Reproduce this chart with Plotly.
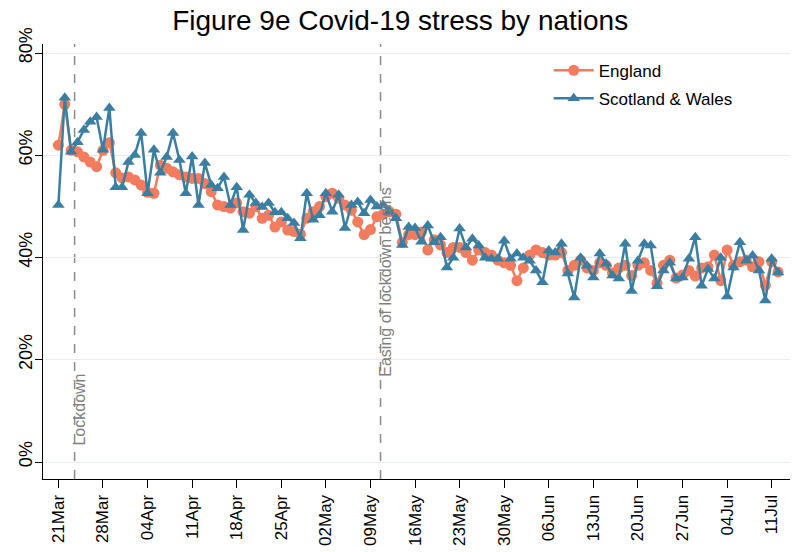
import pandas as pd
import plotly.graph_objects as go

# daily series, 21 Mar 2020 onwards (percent stressed)
start_date = "2020-03-21"
england = [
    62, 70, 61, 60.7, 59.7, 58.7, 57.8, 61, 62.5, 56.6,
    55.6, 55.8, 55.2, 54.2, 52.8, 52.6, 58.1, 57.5, 56.8, 56.2,
    55.8, 55.5, 55.5, 54.5, 52.9, 50.3, 50, 49.7, 50.7, 49,
    48.7, 50, 47.7, 48.3, 46, 47, 45.4, 45.1, 44.6, 47.7,
    49, 50, 51.9, 52.6, 51.6, 50.3, 49.3, 47, 44.5, 45.5,
    48, 48.5, 49, 48.5, 43, 44.5, 44.5, 45, 41.5, 43.5,
    42.5, 41, 42, 42, 41, 39.5, 41.5, 41, 40.5, 39.5,
    39, 38.5, 35.5, 38, 40.5, 41.5, 41, 40.5, 40.5, 41,
    37.5, 38.5, 39.5, 38, 37.5, 39, 38.5, 37, 38, 38.5,
    36.5, 38.5, 39, 37.5, 35, 38.5, 39.5, 36, 36.6, 37.5,
    36.4, 38, 38.2, 40.5, 35.5, 41.5, 38.5, 39.2, 39.5, 38.2,
    39.2, 34.6, 39.2, 37.2,
]
scotland_wales = [
    50.3, 71.3, 60.7, 62.6, 65, 66.6, 67.5, 61.1, 69.3, 53.8,
    53.8, 58.7, 60.1, 64.4, 52.6, 61.1, 56.6, 59.7, 64.4, 59.1,
    52.6, 59.8, 50.3, 58.5, 54.2, 53.6, 55.8, 50.3, 53.8, 45.4,
    52.3, 50.7, 49.9, 50.7, 48.9, 48.9, 47.7, 46.8, 43.8, 52.6,
    47.4, 48.3, 52.6, 49, 52.3, 45.8, 50.3, 50.9, 48.7, 51.3,
    50, 50.3, 49, 47.7, 42.5, 46, 45.8, 43.1, 46.3, 43,
    44, 38.1, 40, 45.7, 42, 43.7, 42.4, 40, 39.8, 39.8,
    43.3, 39.8, 40.8, 40, 39.4, 37.5, 35.2, 41.4, 41, 42.7,
    36.9, 32.2, 40, 38.4, 36.1, 40.8, 38.8, 36.5, 35.9, 42.7,
    33.5, 39.4, 42.7, 42.4, 34.4, 37.5, 39, 35.9, 36.1, 39.8,
    44, 34.5, 37.8, 35.9, 40, 32.4, 38.1, 43, 39.4, 40.4,
    37.5, 31.6, 39.8, 37.1,
]
y_ticks = [0, 20, 40, 60, 80]
y_tick_text = ["0%", "20%", "40%", "60%", "80%"]
events = ["2020-03-23 13:00", "2020-05-10 14:00"]
event_labels = ["Lockdown", "Easing of lockdown begins"]
event_label_y = [10.2, 35.2]

dates = pd.date_range(start_date, periods=len(england), freq="D")
tick_dates = pd.date_range(start_date, "2020-07-11", freq="7D")

ORANGE = "#F47C5E"
BLUE = "#3A7EA1"
GREY = "#808080"

fig = go.Figure()
fig.add_scatter(
    x=dates, y=england, name="England", mode="lines+markers",
    legendgroup="eng",
    line=dict(color=ORANGE, width=2.5),
    marker=dict(symbol="circle", size=11, color=ORANGE),
)
fig.add_scatter(
    x=dates, y=scotland_wales, name="Scotland & Wales", mode="lines+markers",
    legendgroup="sw",
    line=dict(color=BLUE, width=2.5),
    marker=dict(symbol="triangle-up", size=11, color=BLUE),
)

for when, label, ly in zip(events, event_labels, event_label_y):
    fig.add_shape(
        type="line", xref="x", yref="paper", x0=when, x1=when, y0=0, y1=1,
        line=dict(color="#8a8a8a", width=1.5, dash="dash"), layer="below",
    )
    fig.add_annotation(
        x=when, y=ly, xref="x", yref="y", text=label, showarrow=False,
        textangle=-90, xshift=5, font=dict(color=GREY, size=16),
    )

# vertical y tick labels
for v, txt in zip(y_ticks, y_tick_text):
    fig.add_annotation(
        x=0, y=v, xref="paper", yref="y", text=txt, showarrow=False,
        textangle=-90, xshift=-29, yshift=8, font=dict(size=18, color="black"),
    )

fig.update_layout(
    template="none",
    width=794, height=552,
    margin=dict(l=43, r=4, t=44, b=73),
    paper_bgcolor="white", plot_bgcolor="white",
    font=dict(family="Arial", color="black"),
    title=dict(
        text="Figure 9e Covid-19 stress by nations",
        x=0.504, xref="container", xanchor="center",
        y=1 - 20 / 552, yanchor="middle",
        font=dict(size=28, color="black"),
    ),
    legend=dict(
        x=0.677, y=0.98, xanchor="left", yanchor="top",
        font=dict(size=17), bgcolor="rgba(255,255,255,0)",
        itemwidth=40, tracegroupgap=3,
    ),
)
fig.update_xaxes(
    range=["2020-03-18 14:00", "2020-07-13 21:00"],
    tickvals=tick_dates, tickformat="%d%b", tickangle=-90,
    tickfont=dict(size=17), ticks="outside", ticklen=8, tickcolor="black",
    showline=True, linecolor="black", linewidth=1.2,
    showgrid=False, zeroline=False, automargin=False,
)
fig.update_yaxes(
    range=[-3.3, 81.8],
    tickvals=y_ticks, showticklabels=False,
    ticks="outside", ticklen=7, tickcolor="black",
    showline=True, linecolor="black", linewidth=1.2,
    showgrid=True, gridcolor="#E6EEF2", gridwidth=1.2,
    zeroline=False, automargin=False,
)

# drop the default page margin so the figure sits at the window corner
fig.write_html(
    "out.html",
    config={"displayModeBar": False},
    post_script="document.body.style.margin = '0';",
)
